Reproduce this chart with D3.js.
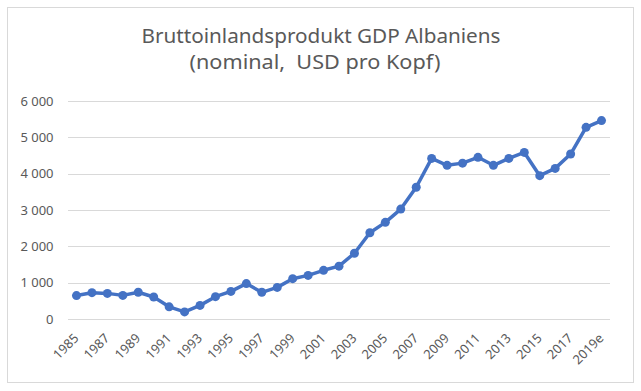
<!DOCTYPE html>
<html>
<head>
<meta charset="utf-8">
<script src="https://cdn.jsdelivr.net/npm/d3@7"></script>
<style>
  html, body { margin: 0; padding: 0; background: #fff; }
  svg { display: block; }
</style>
</head>
<body>
<svg id="chart" width="641" height="391"></svg>
<script>
const titleLines = ["Bruttoinlandsprodukt GDP Albaniens", "(nominal,  USD pro Kopf)"];
const years = ["1985","1986","1987","1988","1989","1990","1991","1992","1993","1994",
               "1995","1996","1997","1998","1999","2000","2001","2002","2003","2004",
               "2005","2006","2007","2008","2009","2010","2011","2012","2013","2014",
               "2015","2016","2017","2018","2019e"];
const gdp = [645, 725, 705, 650, 735, 605, 335, 195, 375, 615,
             760, 975, 735, 870, 1110, 1200, 1340, 1455, 1810, 2375,
             2660, 3025, 3625, 4420, 4230, 4290, 4450, 4230, 4420, 4585,
             3945, 4145, 4540, 5275, 5460];
const yTicks = [0, 1000, 2000, 3000, 4000, 5000, 6000];
const xTickLabels = years.filter((d, i) => i % 2 === 0);

const svg = d3.select("#chart");
const textColor = "#595959";
const font = "'Noto Sans', 'Open Sans', sans-serif";

// chart border
svg.append("rect")
  .attr("x", 7.5).attr("y", 7.5).attr("width", 626).attr("height", 375)
  .attr("fill", "#fff").attr("stroke", "#d9d9d9").attr("stroke-width", 1);

// title
const titleSpec = [
  { x: 141.5, y: 42.5, len: 359 },
  { x: 189.5, y: 69, len: 251 }
];
titleLines.forEach((t, i) => {
  svg.append("text")
    .attr("x", titleSpec[i].x).attr("y", titleSpec[i].y)
    .attr("font-family", font).attr("font-size", 19.5)
    .attr("fill", textColor)
    .attr("textLength", titleSpec[i].len)
    .attr("lengthAdjust", "spacingAndGlyphs")
    .style("white-space", "pre")
    .text(t);
});

const x = d3.scalePoint().domain(years).range([68, 610]).padding(0.55);
const y = d3.scaleLinear().domain([0, 6000]).range([319, 101]);

// gridlines
svg.append("g")
  .selectAll("line").data(yTicks).join("line")
  .attr("x1", 68).attr("x2", 610)
  .attr("y1", d => Math.round(y(d)) + 0.5).attr("y2", d => Math.round(y(d)) + 0.5)
  .attr("stroke", "#d9d9d9").attr("stroke-width", 1);

// y axis labels
const fmt = d => d === 0 ? "0" : d3.format(",")(d).replace(",", "\u2009");
svg.append("g")
  .selectAll("text").data(yTicks).join("text")
  .attr("x", 53.5).attr("y", d => y(d))
  .attr("dy", "0.36em")
  .attr("text-anchor", "end")
  .attr("font-family", font).attr("font-size", 13)
  .attr("fill", textColor)
  .text(d => d3.format(",")(d).replace(",", " "));

// x axis labels
svg.append("g")
  .selectAll("text").data(xTickLabels).join("text")
  .attr("transform", d => `translate(${x(d) + 3},${339}) rotate(-45)`)
  .attr("text-anchor", "end")
  .attr("font-family", font).attr("font-size", 13)
  .attr("fill", textColor)
  .text(d => d);

// line
const line = d3.line().x((d, i) => x(years[i])).y(d => y(d));
svg.append("path")
  .datum(gdp)
  .attr("d", line)
  .attr("fill", "none")
  .attr("stroke", "#4472c4")
  .attr("stroke-width", 3.5)
  .attr("stroke-linejoin", "round")
  .attr("stroke-linecap", "round");

// markers
svg.append("g")
  .selectAll("circle").data(gdp).join("circle")
  .attr("cx", (d, i) => x(years[i]))
  .attr("cy", d => y(d))
  .attr("r", 4.5)
  .attr("fill", "#4472c4");
</script>
</body>
</html>
